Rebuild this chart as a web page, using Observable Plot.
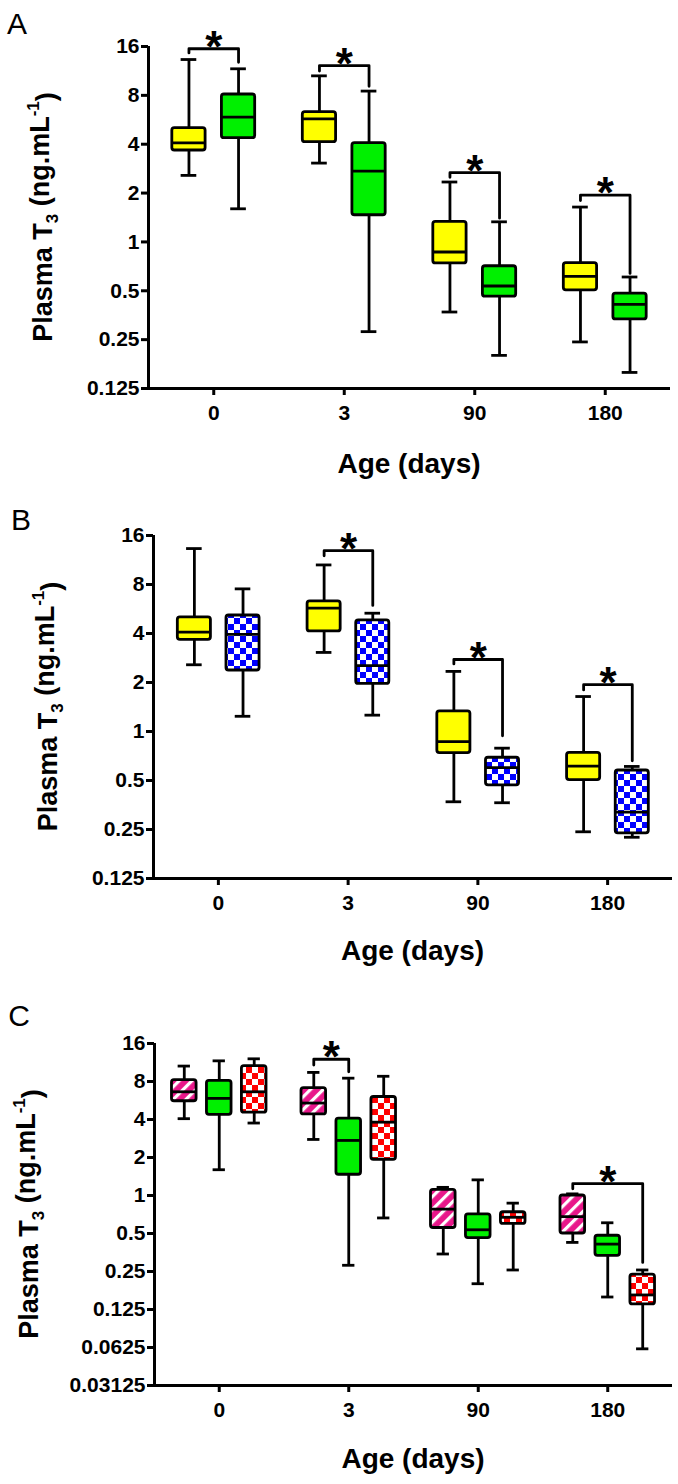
<!DOCTYPE html>
<html><head><meta charset="utf-8">
<script src="https://cdn.jsdelivr.net/npm/d3@7"></script>
<script src="https://cdn.jsdelivr.net/npm/@observablehq/plot@0.6"></script>
<style>
body{margin:0;background:#fff;}
#chart svg{display:block;overflow:visible;}
</style></head><body><div id="chart"></div>
<script>
// ---- data ----
const ages = ["0", "3", "90", "180"];
const yTicksAB = [0.125, 0.25, 0.5, 1, 2, 4, 8, 16];
const yTicksC = [0.03125, 0.0625, 0.125, 0.25, 0.5, 1, 2, 4, 8, 16];
// per age: [whisker low, Q1, median, Q3, whisker high]
const controlStats = [[2.57, 3.66, 4.08, 5.03, 13.3], [3.06, 4.12, 5.73, 6.3, 10.55], [0.37, 0.737, 0.867, 1.33, 2.34], [0.242, 0.503, 0.613, 0.74, 1.64]];
const greenStats = [[1.6, 4.36, 5.88, 8.1, 11.66], [0.28, 1.46, 2.73, 4.06, 8.5], [0.2, 0.46, 0.535, 0.708, 1.33], [0.157, 0.333, 0.412, 0.48, 0.608]];
const blueStats = [[1.24, 2.37, 3.95, 5.16, 7.52], [1.26, 1.96, 2.54, 4.81, 5.33], [0.365, 0.467, 0.6, 0.69, 0.79], [0.224, 0.237, 0.32, 0.576, 0.61]];
const pinkStats = [[4.06, 5.58, 6.63, 8.2, 10.6], [2.78, 4.39, 5.4, 7.1, 9.44], [0.344, 0.553, 0.78, 1.11, 1.16], [0.425, 0.5, 0.68, 1.0, 1.03]];
const redStats = [[3.75, 4.53, 6.63, 10.6, 12.1], [0.664, 1.92, 3.81, 6.03, 8.8], [0.257, 0.595, 0.672, 0.737, 0.87], [0.061, 0.137, 0.163, 0.236, 0.257]];
// significance brackets: age index, left series, right series, bracket level, left leg end, right leg end
const bracketsA = [[0, 0, 1, 15.5, 14.6, 12.8], [1, 0, 1, 12.2, 11.3, 9.1], [2, 0, 1, 2.67, 2.5, 1.4], [3, 0, 1, 1.94, 1.8, 0.64]];
const bracketsB = [[1, 0, 1, 12.9, 12, 5.95], [2, 0, 1, 2.77, 2.6, 0.94], [3, 0, 1, 1.94, 1.8, 0.66]];
const bracketsC = [[1, 0, 1, 12, 10.8, 9.55], [3, 0, 2, 1.24, 1.13, 0.295]];

const FONT = "'Liberation Sans', Arial, sans-serif";

function addDefs(svg, p) {
  const defs = d3.select(svg).insert("defs", ":first-child");
  const chk = (id, col) => {
    const pt = defs.append("pattern").attr("id", id).attr("patternUnits", "userSpaceOnUse").attr("width", 12).attr("height", 12);
    pt.append("rect").attr("width", 12).attr("height", 12).attr("fill", "#fff");
    pt.append("rect").attr("width", 6).attr("height", 6).attr("fill", col);
    pt.append("rect").attr("x", 6).attr("y", 6).attr("width", 6).attr("height", 6).attr("fill", col);
  };
  chk(p + "-blue", "#0000ff");
  chk(p + "-red", "#ff0000");
  const st = defs.append("pattern").attr("id", p + "-pink").attr("patternUnits", "userSpaceOnUse")
    .attr("width", 9).attr("height", 9).attr("patternTransform", "rotate(45)");
  st.append("rect").attr("width", 9).attr("height", 9).attr("fill", "#e8178a");
  st.append("rect").attr("width", 3.2).attr("height", 9).attr("fill", "#fff");
}

function panel(cfg) {
  const {series, offsets, boxW, capW, yMin, yTicks, height, mt, mb, ml, mr, brackets, letter, letterX, letterY, yTitleX, ageY, p} = cfg;
  const rows = [];
  series.forEach((s, si) => s.stats.forEach((st, i) =>
    rows.push({si, x: i + offsets[si], lo: st[0], q1: st[1], med: st[2], q3: st[3], hi: st[4]})));
  const br = brackets.map(b => ({age: b[0], l: b[1], r: b[2], level: b[3], le: b[4], re: b[5]}));
  const brLines = br.flatMap((b, k) => {
    const xl = b.age + offsets[b.l], xr = b.age + offsets[b.r];
    return [{k, x: xl, y: b.le}, {k, x: xl, y: b.level}, {k, x: xr, y: b.level}, {k, x: xr, y: b.re}];
  });
  const sw = 2.8;
  const svg = Plot.plot({
    width: 678, height,
    marginTop: mt, marginBottom: mb, marginLeft: ml, marginRight: mr,
    style: {fontFamily: FONT, fontWeight: "bold", fontSize: "21px", color: "#000", background: "transparent"},
    x: {domain: [-0.5, 3.5], axis: null},
    y: {type: "log", base: 2, domain: [yMin, 16], axis: null},
    marks: [
      Plot.axisY({ticks: yTicks, tickFormat: d => String(d), tickSize: 7, tickPadding: 2, strokeWidth: 3, label: null, fontSize: 21, fontWeight: "bold"}),
      Plot.axisX({ticks: [0, 1, 2, 3], tickFormat: i => ages[i], tickSize: 7, tickPadding: 10, strokeWidth: 3, label: null, fontSize: 21, fontWeight: "bold"}),
      Plot.ruleX([-0.5], {strokeWidth: 3}),
      Plot.ruleY([yMin], {strokeWidth: 3}),
      Plot.ruleX(rows, {x: "x", y1: "lo", y2: "hi", strokeWidth: sw}),
      Plot.ruleY(rows, {y: "lo", x1: d => d.x - capW / 2, x2: d => d.x + capW / 2, strokeWidth: sw}),
      Plot.ruleY(rows, {y: "hi", x1: d => d.x - capW / 2, x2: d => d.x + capW / 2, strokeWidth: sw}),
      ...series.map((s, si) => Plot.rect(rows.filter(r => r.si === si), {
        x1: d => d.x - boxW / 2, x2: d => d.x + boxW / 2, y1: "q1", y2: "q3",
        fill: s.fill, stroke: "#000", strokeWidth: sw, rx: 2.5
      })),
      Plot.ruleY(rows, {y: "med", x1: d => d.x - boxW / 2, x2: d => d.x + boxW / 2, strokeWidth: sw}),
      Plot.line(brLines, {x: "x", y: "y", z: "k", strokeWidth: sw, strokeLinejoin: "round"}),
      Plot.text(br, {x: b => b.age + (offsets[b.l] + offsets[b.r]) / 2, y: "level", text: () => "*", fontSize: 44, fontWeight: "bold", dy: -1})
    ]
  });
  addDefs(svg, p);
  const s = d3.select(svg);
  s.append("text").attr("x", letterX).attr("y", letterY).attr("font-family", FONT).attr("font-size", 30).attr("font-weight", "normal").text(letter);
  const cx = ml + (678 - ml - mr) / 2;
  s.append("text").attr("x", cx).attr("y", ageY).attr("text-anchor", "middle").attr("font-family", FONT).attr("font-size", 28).attr("font-weight", "bold").text("Age (days)");
  const cy = mt + (height - mt - mb) / 2;
  const t = s.append("text").attr("transform", `translate(${yTitleX},${cy}) rotate(-90)`).attr("text-anchor", "middle")
    .attr("dy", "0.35em").attr("font-family", FONT).attr("font-size", 27).attr("font-weight", "bold");
  t.append("tspan").text("Plasma T");
  t.append("tspan").attr("font-size", 17).attr("dy", "0.3em").text("3");
  t.append("tspan").attr("dy", "-0.3em").text(" (ng.mL");
  t.append("tspan").attr("font-size", 17).attr("dy", "-0.6em").text("-1");
  t.append("tspan").attr("dy", "0.6em").text(")");
  return svg;
}

const root = document.getElementById("chart");
root.appendChild(panel({
  p: "pA", letter: "A", letterX: 17, letterY: 34, yTitleX: 43, ageY: 473,
  series: [{stats: controlStats, fill: "#ffff00"}, {stats: greenStats, fill: "#00f000"}],
  offsets: [-0.19, 0.19], boxW: 0.255, capW: 0.12, yMin: 0.125, yTicks: yTicksAB,
  height: 480, mt: 46, mb: 92, ml: 148, mr: 8, brackets: bracketsA
}));
root.appendChild(panel({
  p: "pB", letter: "B", letterX: 21, letterY: 50, yTitleX: 48, ageY: 480,
  series: [{stats: controlStats, fill: "#ffff00"}, {stats: blueStats, fill: "url(#pB-blue)"}],
  offsets: [-0.185, 0.19], boxW: 0.255, capW: 0.12, yMin: 0.125, yTicks: yTicksAB,
  height: 485, mt: 55, mb: 87, ml: 153, mr: 6, brackets: bracketsB
}));
root.appendChild(panel({
  p: "pC", letter: "C", letterX: 19, letterY: 61, yTitleX: 29, ageY: 503,
  series: [{stats: pinkStats, fill: "url(#pC-pink)"}, {stats: greenStats, fill: "#00f000"}, {stats: redStats, fill: "url(#pC-red)"}],
  offsets: [-0.27, 0, 0.27], boxW: 0.19, capW: 0.095, yMin: 0.03125, yTicks: yTicksC,
  height: 519, mt: 78, mb: 99, ml: 154, mr: 6, brackets: bracketsC
}));
</script></body></html>
